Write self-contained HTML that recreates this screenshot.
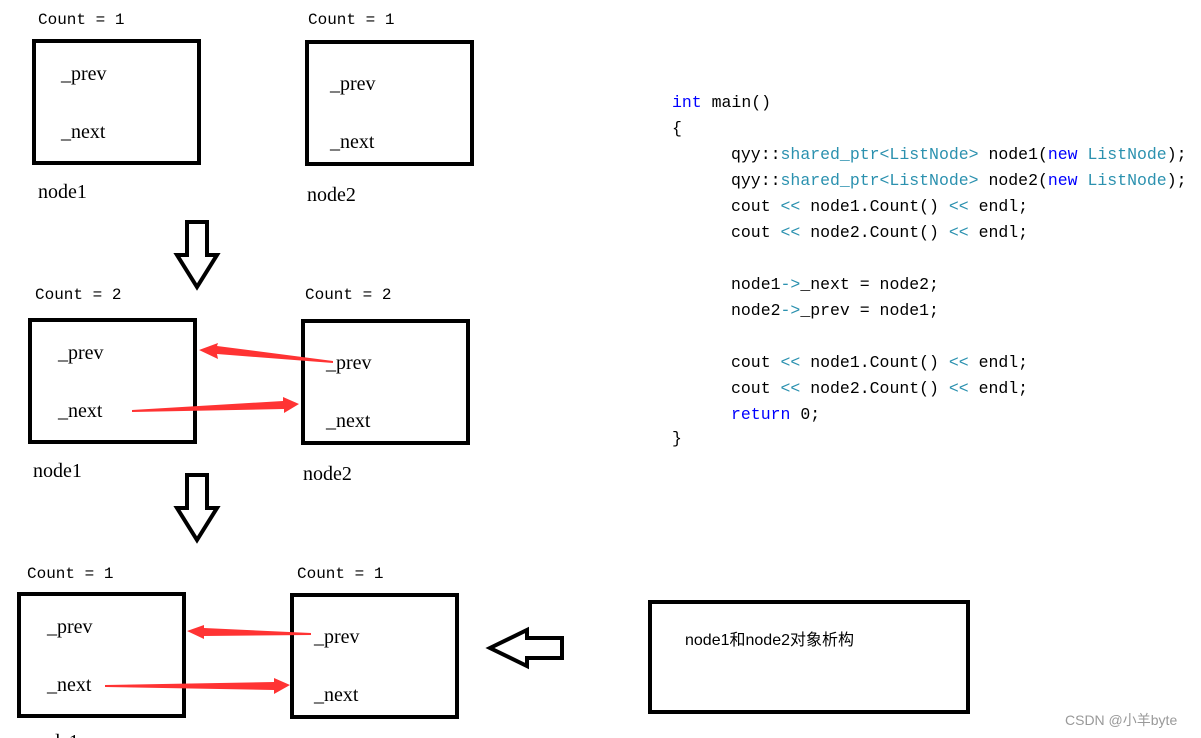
<!DOCTYPE html>
<html><head><meta charset="utf-8"><style>
body{margin:0;background:#fff;}
svg{display:block}
.m{font-family:"Liberation Mono","Noto Sans CJK SC",monospace;font-size:16px;fill:#000}
.s{font-family:"Liberation Serif",serif;font-size:20px;fill:#000}
.c{font-family:"Liberation Mono",monospace;font-size:16.5px;fill:#000}
.b{fill:#0000ff}.t{fill:#2b91af}
.bx{fill:none;stroke:#000;stroke-width:4}
.ar{fill:#fff;stroke:#000;stroke-width:4;stroke-linejoin:miter}
.r{fill:#f33}
</style></head><body>
<svg width="1201" height="738" viewBox="0 0 1201 738" xmlns="http://www.w3.org/2000/svg">
<!-- row1 -->
<text class="m" x="38" y="24">Count = 1</text>
<rect class="bx" x="34" y="41" width="165" height="122"/>
<text class="s" x="61" y="80">_prev</text>
<text class="s" x="61" y="138">_next</text>
<text class="s" x="38" y="198">node1</text>
<text class="m" x="308" y="24">Count = 1</text>
<rect class="bx" x="307" y="42" width="165" height="122"/>
<text class="s" x="330" y="90">_prev</text>
<text class="s" x="330" y="148">_next</text>
<text class="s" x="307" y="201">node2</text>
<polygon class="ar" points="187,222 207,222 207,255 217,255 197,287 177,255 187,255"/>
<!-- row2 -->
<text class="m" x="35" y="299">Count = 2</text>
<rect class="bx" x="30" y="320" width="165" height="122"/>
<text class="s" x="58" y="359">_prev</text>
<text class="s" x="58" y="417">_next</text>
<text class="s" x="33" y="477">node1</text>
<text class="m" x="305" y="299">Count = 2</text>
<rect class="bx" x="303" y="321" width="165" height="122"/>
<text class="s" x="326" y="369">_prev</text>
<text class="s" x="326" y="427">_next</text>
<text class="s" x="303" y="480">node2</text>
<polygon class="r" points="333,361 333,363 217,354 218,359 199,350 218,343 217,346"/>
<polygon class="r" points="132,410 132,412 284,409 284,413 299,404 283,397 283,401"/>
<polygon class="ar" points="187,475 207,475 207,508 217,508 197,540 177,508 187,508"/>
<!-- row3 -->
<text class="m" x="27" y="578">Count = 1</text>
<rect class="bx" x="19" y="594" width="165" height="122"/>
<text class="s" x="47" y="633">_prev</text>
<text class="s" x="47" y="691">_next</text>
<text class="s" x="30" y="748">node1</text>
<text class="m" x="297" y="578">Count = 1</text>
<rect class="bx" x="292" y="595" width="165" height="122"/>
<text class="s" x="314" y="643">_prev</text>
<text class="s" x="314" y="701">_next</text>
<polygon class="r" points="311,633 311,635 204,636 204,639 187,631 204,625 204,628"/>
<polygon class="r" points="105,685 105,687 274,690 274,694 290,685 274,678 274,682"/>
<polygon class="ar" points="562,638 562,658 527,658 527,666 490,648 527,630 527,638"/>
<rect class="bx" x="650" y="602" width="318" height="110"/>
<text x="685" y="645" style="font-family:'Liberation Sans','Noto Sans CJK SC',sans-serif;font-size:16px">node1和node2对象析构</text>
<text x="1065" y="725" style="font-family:'Liberation Sans','Noto Sans CJK SC',sans-serif;font-size:14px;fill:#999">CSDN @小羊byte</text>
<!-- code -->
<g class="c">
<text x="672" y="107"><tspan class="b">int</tspan> main()</text>
<text x="672" y="133">{</text>
<text x="731" y="159">qyy::<tspan class="t">shared_ptr&lt;ListNode&gt;</tspan> node1(<tspan class="b">new</tspan> <tspan class="t">ListNode</tspan>);</text>
<text x="731" y="185">qyy::<tspan class="t">shared_ptr&lt;ListNode&gt;</tspan> node2(<tspan class="b">new</tspan> <tspan class="t">ListNode</tspan>);</text>
<text x="731" y="211">cout <tspan class="t">&lt;&lt;</tspan> node1.Count() <tspan class="t">&lt;&lt;</tspan> endl;</text>
<text x="731" y="237">cout <tspan class="t">&lt;&lt;</tspan> node2.Count() <tspan class="t">&lt;&lt;</tspan> endl;</text>
<text x="731" y="289">node1<tspan class="t">-&gt;</tspan>_next = node2;</text>
<text x="731" y="315">node2<tspan class="t">-&gt;</tspan>_prev = node1;</text>
<text x="731" y="367">cout <tspan class="t">&lt;&lt;</tspan> node1.Count() <tspan class="t">&lt;&lt;</tspan> endl;</text>
<text x="731" y="393">cout <tspan class="t">&lt;&lt;</tspan> node2.Count() <tspan class="t">&lt;&lt;</tspan> endl;</text>
<text x="731" y="419"><tspan class="b">return</tspan> 0;</text>
<text x="672" y="443">}</text>
</g>
</svg>
</body></html>
